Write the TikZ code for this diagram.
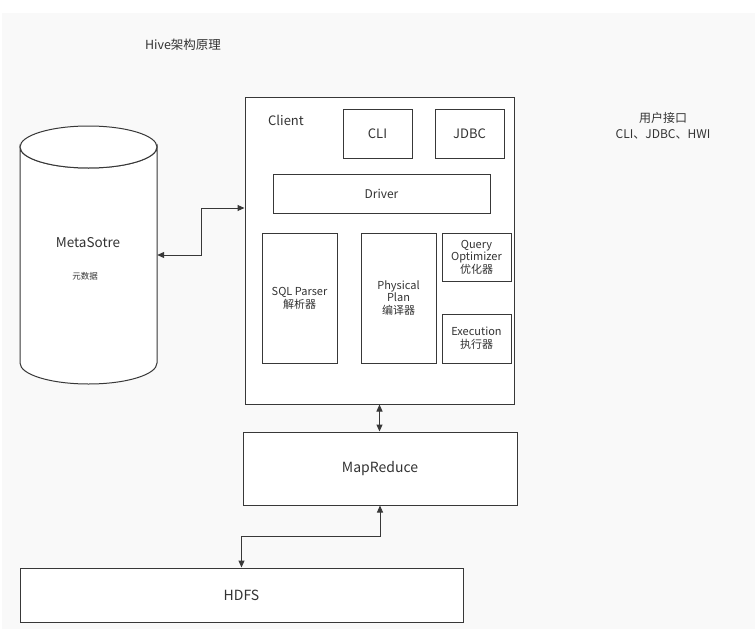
\documentclass[tikz,border=0pt]{standalone}
\usepackage{fontspec}
\setmainfont{Noto Sans CJK SC}
\usetikzlibrary{arrows.meta}

\definecolor{bgray}{HTML}{F9F9F9}
\definecolor{ink}{HTML}{333333}
\newcommand{\fs}[2]{\fontsize{#1}{#2}\selectfont}

\tikzset{
    box/.style={rectangle, draw=black!78, line width=1pt, fill=white, inner sep=0pt, text=ink, align=center},
    tag/.style={text=ink, inner sep=0pt, align=center},
    link/.style={draw=black!78, line width=1pt, {Triangle[length=7pt,width=6pt]}-{Triangle[length=7pt,width=6pt]}},
}

\begin{document}
\begin{tikzpicture}[x=1pt, y=-1pt]
        \useasboundingbox (0,0) rectangle (755,629);
        \fill[white] (0,0) rectangle (755,629);
        \fill[bgray] (2,13) rectangle (755,629);

        % metastore cylinder
        \draw[draw=black!78, line width=1pt, fill=white] (20,147) -- (20,363)
            arc[start angle=180, end angle=0, x radius=68.5, y radius=21] -- (157,147)
            arc[start angle=0, end angle=180, x radius=68.5, y radius=21] -- cycle;
        \draw[draw=black!78, line width=1pt, fill=white] (88.5,147) ellipse[x radius=68.5, y radius=21];
        \node[minimum width=137pt, minimum height=258pt, inner sep=0pt] (meta) at (88.5,255) {};
        \node[tag, font=\fs{13.5}{16}] (metaname) at (88,243) {MetaSotre};
        \node[tag, font=\fs{8.5}{10}] (metasub) at (85,276) {元数据};

        % client
        \node[box, minimum width=269pt, minimum height=307pt] (client) at (379.5,250.5) {};
        \node[tag, font=\fs{13}{15}] (clientname) at (286,120) {Client};
        \node[box, minimum width=69pt, minimum height=49pt, font=\fs{13}{15}] (cli) at (377.5,133.5) {CLI};
        \node[box, minimum width=69pt, minimum height=49pt, font=\fs{13}{15}] (jdbc) at (469.5,133.5) {JDBC};
        \node[box, minimum width=217pt, minimum height=39pt, font=\fs{12}{14}] (driver) at (381.5,193.5) {Driver};
        \node[box, minimum width=75pt, minimum height=130pt, font=\fs{11}{12.8}] (sql) at (299.5,298) {SQL Parser\\解析器};
        \node[box, minimum width=75pt, minimum height=130pt, font=\fs{11}{12.5}] (plan) at (398.5,298) {Physical\\Plan\\编译器};
        \node[box, minimum width=69pt, minimum height=48pt, font=\fs{11}{12.5}] (opt) at (476.5,257) {Query\\Optimizer\\优化器};
        \node[box, minimum width=69pt, minimum height=49pt, font=\fs{11}{13}] (exec) at (476.5,338.5) {Execution\\执行器};

        \node[box, minimum width=274pt, minimum height=73pt, font=\fs{14}{16}] (mr) at (380,468.5) {MapReduce};
        \node[box, minimum width=443pt, minimum height=54pt, font=\fs{14}{16}] (hdfs) at (241.5,595) {HDFS};

        \node[tag, font=\fs{12.5}{15}] (title) at (183,45) {Hive架构原理};
        \node[tag, font=\fs{12}{15.5}] (ui) at (663,126) {用户接口\\CLI、JDBC、HWI};

        \draw[link] (meta.east) -| (201,208) -- (client.west |- 201,208);
        \draw[link] (client.south) -- (client.south |- mr.north);
        \draw[link] (mr.south) -- ++(0,31) -| (hdfs.north);
\end{tikzpicture}
\end{document}
